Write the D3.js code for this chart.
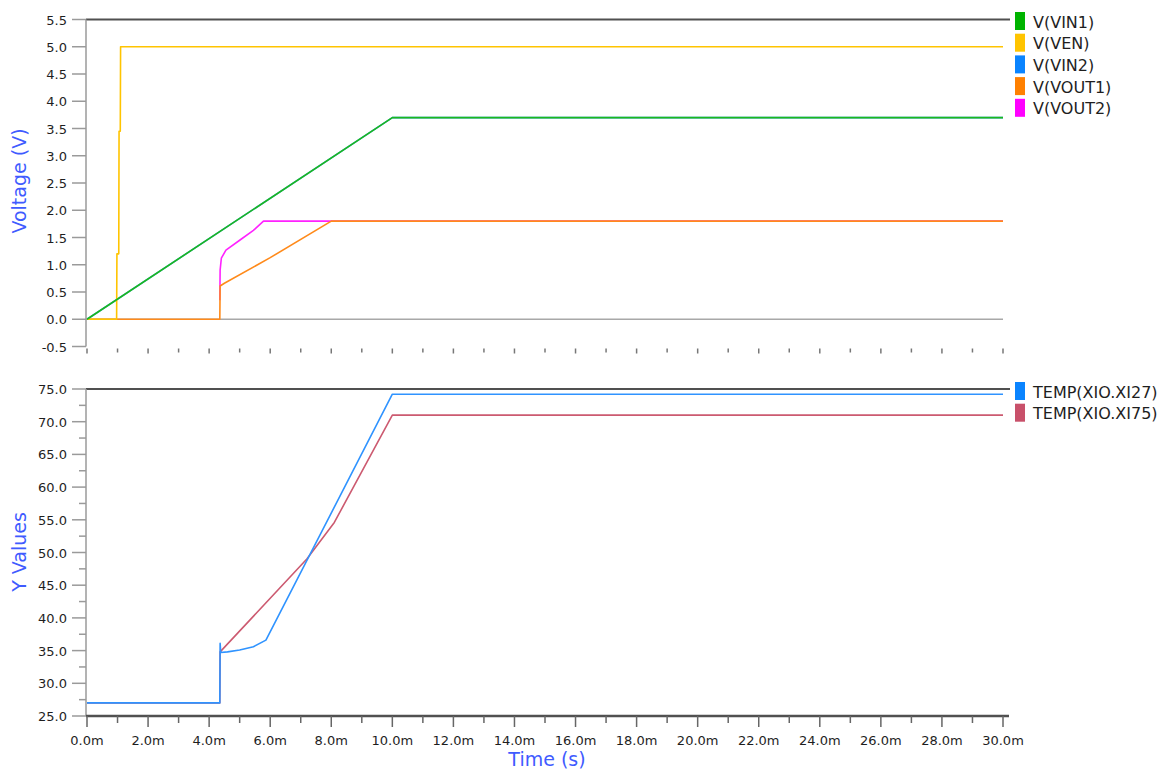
<!DOCTYPE html>
<html>
<head>
<meta charset="utf-8">
<script src="https://cdn.jsdelivr.net/npm/d3@7"></script>
<style>
  html, body { margin: 0; padding: 0; background: #fff; }
  svg { display: block; }
  text { font-family: "DejaVu Sans", Verdana, sans-serif; }
</style>
</head>
<body>
<svg id="chart" width="1173" height="772"></svg>
<script>
// ---- data (time in ms) ----
const timeTicks = [0, 2, 4, 6, 8, 10, 12, 14, 16, 18, 20, 22, 24, 26, 28, 30];
const timeMinorTicks = [1, 3, 5, 7, 9, 11, 13, 15, 17, 19, 21, 23, 25, 27, 29];
const voltTicks = [-0.5, 0, 0.5, 1.0, 1.5, 2.0, 2.5, 3.0, 3.5, 4.0, 4.5, 5.0, 5.5];
const tempTicks = [25, 30, 35, 40, 45, 50, 55, 60, 65, 70, 75];
const tempMinorTicks = [27.5, 32.5, 37.5, 42.5, 47.5, 52.5, 57.5, 62.5, 67.5, 72.5];

const vin1 = [[0, 0], [10.0, 3.7], [30, 3.7]];
const ven = [[0, 0], [0.97, 0], [0.98, 1.2], [1.04, 1.2], [1.05, 3.45], [1.09, 3.45], [1.1, 5.0], [30, 5.0]];
const vin2 = [[0, 0], [10.0, 3.7], [30, 3.7]];
const vout1 = [[0, 0], [4.35, 0], [4.36, 0.61], [4.5, 0.66], [6.0, 1.13], [8.0, 1.8], [30, 1.8]];
const vout2 = [[4.35, 0.35], [4.36, 0.9], [4.4, 1.12], [4.55, 1.27], [5.0, 1.45], [5.45, 1.63], [5.78, 1.8], [30, 1.8]];

const tempXI27 = [[0, 27], [4.35, 27], [4.36, 36.1], [4.38, 34.7], [4.6, 34.8], [5.0, 35.1], [5.45, 35.6], [5.86, 36.6], [10.0, 74.2], [30, 74.2]];
const tempXI75 = [[0, 27], [4.35, 27], [4.36, 34.8], [7.2, 49.0], [8.1, 54.6], [10.0, 71.0], [30, 71.0]];

const voltSeries = [
  { name: "V(VIN1)", color: "#00b400", line: "#1cb81c", data: vin1 },
  { name: "V(VEN)", color: "#ffc400", line: "#ffc400", data: ven },
  { name: "V(VIN2)", color: "#0a84ff", line: "#2f93ff", data: vin2 },
  { name: "V(VOUT1)", color: "#ff8000", line: "#ff8a1a", data: vout1 },
  { name: "V(VOUT2)", color: "#ff00ff", line: "#ff22ff", data: vout2 }
];
const tempSeries = [
  { name: "TEMP(XIO.XI27)", color: "#0a84ff", line: "#2f93ff", data: tempXI27 },
  { name: "TEMP(XIO.XI75)", color: "#c8506a", line: "#cc5a70", data: tempXI75 }
];

// ---- layout ----
const svg = d3.select("#chart");
const axisX = 86;
const plotRight = 1010;
const titleColor = "#3f5bff";
const tickColor = "#9a9a9a";
const frameColor = "#505050";

const x = d3.scaleLinear().domain([0, 30]).range([87, 1003]);
const yV = d3.scaleLinear().domain([-0.5, 5.5]).range([346.5, 19.5]);
const yT = d3.scaleLinear().domain([25, 75]).range([716, 389]);

function drawPanel(y, majorTicks, minorTicks, fmt, series, title, titleY, legendTop, showXLabels, zeroLine) {
  const g = svg.append("g");
  const [y0, y1] = y.range();

  // zero reference line
  if (zeroLine) {
    g.append("line")
      .attr("x1", axisX).attr("x2", x(30))
      .attr("y1", y(0)).attr("y2", y(0))
      .attr("stroke", "#a8a8a8").attr("stroke-width", 1.5);
  }

  // series, first legend entry drawn on top
  const line = d3.line().x(d => x(d[0])).y(d => y(d[1]));
  series.slice().reverse().forEach(s => {
    g.append("path")
      .attr("d", line(s.data))
      .attr("fill", "none")
      .attr("stroke", s.line)
      .attr("stroke-width", 1.6)
      .attr("stroke-linejoin", "round");
  });

  // top frame line
  g.append("line")
    .attr("x1", axisX).attr("x2", plotRight)
    .attr("y1", y1).attr("y2", y1)
    .attr("stroke", frameColor).attr("stroke-width", 2);

  // left axis
  g.append("line")
    .attr("x1", axisX).attr("x2", axisX)
    .attr("y1", y1).attr("y2", y0)
    .attr("stroke", tickColor).attr("stroke-width", 1.5);

  g.selectAll(null).data(majorTicks).enter().append("line")
    .attr("x1", 72).attr("x2", axisX)
    .attr("y1", d => y(d)).attr("y2", d => y(d))
    .attr("stroke", tickColor).attr("stroke-width", 1.5);

  g.selectAll(null).data(minorTicks).enter().append("line")
    .attr("x1", 79).attr("x2", axisX)
    .attr("y1", d => y(d)).attr("y2", d => y(d))
    .attr("stroke", tickColor).attr("stroke-width", 1.5);

  g.selectAll(null).data(majorTicks).enter().append("text")
    .attr("x", 67).attr("y", d => y(d) + 5)
    .attr("text-anchor", "end")
    .attr("font-size", 13).attr("fill", "#1e1e1e")
    .text(fmt);

  // axis title
  g.append("text")
    .attr("transform", `translate(26,${titleY}) rotate(-90)`)
    .attr("text-anchor", "middle")
    .attr("font-size", 19).attr("fill", titleColor)
    .text(title);

  // legend
  series.forEach((s, i) => {
    const ty = legendTop + i * 21.7;
    g.append("rect")
      .attr("x", 1015).attr("y", ty)
      .attr("width", 10).attr("height", 18)
      .attr("fill", s.color);
    g.append("text")
      .attr("x", 1033).attr("y", ty + 15.5)
      .attr("font-size", 16).attr("fill", "#1e1e1e")
      .text(s.name);
  });

  // time axis
  if (showXLabels) {
    g.append("line")
      .attr("x1", axisX).attr("x2", 1009)
      .attr("y1", y0).attr("y2", y0)
      .attr("stroke", frameColor).attr("stroke-width", 2.5);
    g.selectAll(null).data(timeTicks).enter().append("line")
      .attr("x1", d => x(d)).attr("x2", d => x(d))
      .attr("y1", y0).attr("y2", y0 + 11)
      .attr("stroke", "#666").attr("stroke-width", 1.5);
    g.selectAll(null).data(timeMinorTicks).enter().append("line")
      .attr("x1", d => x(d)).attr("x2", d => x(d))
      .attr("y1", y0).attr("y2", y0 + 7)
      .attr("stroke", "#666").attr("stroke-width", 1.5);
    g.selectAll(null).data(timeTicks).enter().append("text")
      .attr("x", d => x(d)).attr("y", y0 + 29)
      .attr("text-anchor", "middle")
      .attr("font-size", 13).attr("fill", "#1e1e1e")
      .text(d => d.toFixed(1) + "m");
  } else {
    g.selectAll(null).data(timeTicks).enter().append("line")
      .attr("x1", d => x(d)).attr("x2", d => x(d))
      .attr("y1", y0 + 2).attr("y2", y0 + 7)
      .attr("stroke", "#777").attr("stroke-width", 1.5);
    g.selectAll(null).data(timeMinorTicks).enter().append("line")
      .attr("x1", d => x(d)).attr("x2", d => x(d))
      .attr("y1", y0 + 2).attr("y2", y0 + 6)
      .attr("stroke", "#777").attr("stroke-width", 1.5);
  }
}

drawPanel(yV, voltTicks, [], d => d.toFixed(1), voltSeries, "Voltage (V)", 181, 12, false, true);
drawPanel(yT, tempTicks, tempMinorTicks, d => d.toFixed(1), tempSeries, "Y Values", 552, 382, true, false);

svg.append("text")
  .attr("x", 547).attr("y", 766)
  .attr("text-anchor", "middle")
  .attr("font-size", 19).attr("fill", titleColor)
  .text("Time (s)");
</script>
</body>
</html>
